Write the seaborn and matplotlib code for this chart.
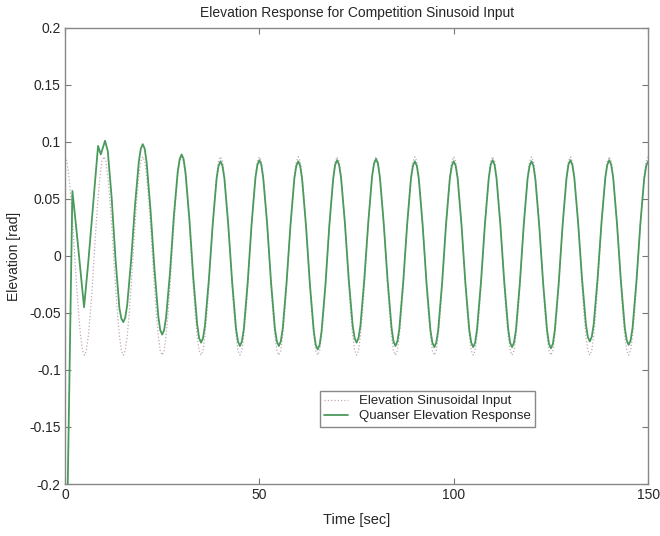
import numpy as np
import pandas as pd
import matplotlib
matplotlib.use("Agg")
import matplotlib.pyplot as plt
import seaborn as sns

# entree sinusoidale (pas de 0.5 s)
input_time = [i * 0.5 for i in range(301)]
input_elev = [
    0.087, 0.083, 0.070, 0.051, 0.027, 0.0, -0.027, -0.051, -0.070, -0.083,
    -0.087, -0.083, -0.070, -0.051, -0.027, 0.0, 0.027, 0.051, 0.070, 0.083,
    0.087, 0.083, 0.070, 0.051, 0.027, 0.0, -0.027, -0.051, -0.070, -0.083,
    -0.087, -0.083, -0.070, -0.051, -0.027, 0.0, 0.027, 0.051, 0.070, 0.083,
    0.087, 0.083, 0.070, 0.051, 0.027, 0.0, -0.027, -0.051, -0.070, -0.083,
    -0.087, -0.083, -0.070, -0.051, -0.027, 0.0, 0.027, 0.051, 0.070, 0.083,
    0.087, 0.083, 0.070, 0.051, 0.027, 0.0, -0.027, -0.051, -0.070, -0.083,
    -0.087, -0.083, -0.070, -0.051, -0.027, 0.0, 0.027, 0.051, 0.070, 0.083,
    0.087, 0.083, 0.070, 0.051, 0.027, 0.0, -0.027, -0.051, -0.070, -0.083,
    -0.087, -0.083, -0.070, -0.051, -0.027, 0.0, 0.027, 0.051, 0.070, 0.083,
    0.087, 0.083, 0.070, 0.051, 0.027, 0.0, -0.027, -0.051, -0.070, -0.083,
    -0.087, -0.083, -0.070, -0.051, -0.027, 0.0, 0.027, 0.051, 0.070, 0.083,
    0.087, 0.083, 0.070, 0.051, 0.027, 0.0, -0.027, -0.051, -0.070, -0.083,
    -0.087, -0.083, -0.070, -0.051, -0.027, 0.0, 0.027, 0.051, 0.070, 0.083,
    0.087, 0.083, 0.070, 0.051, 0.027, 0.0, -0.027, -0.051, -0.070, -0.083,
    -0.087, -0.083, -0.070, -0.051, -0.027, 0.0, 0.027, 0.051, 0.070, 0.083,
    0.087, 0.083, 0.070, 0.051, 0.027, 0.0, -0.027, -0.051, -0.070, -0.083,
    -0.087, -0.083, -0.070, -0.051, -0.027, 0.0, 0.027, 0.051, 0.070, 0.083,
    0.087, 0.083, 0.070, 0.051, 0.027, 0.0, -0.027, -0.051, -0.070, -0.083,
    -0.087, -0.083, -0.070, -0.051, -0.027, 0.0, 0.027, 0.051, 0.070, 0.083,
    0.087, 0.083, 0.070, 0.051, 0.027, 0.0, -0.027, -0.051, -0.070, -0.083,
    -0.087, -0.083, -0.070, -0.051, -0.027, 0.0, 0.027, 0.051, 0.070, 0.083,
    0.087, 0.083, 0.070, 0.051, 0.027, 0.0, -0.027, -0.051, -0.070, -0.083,
    -0.087, -0.083, -0.070, -0.051, -0.027, 0.0, 0.027, 0.051, 0.070, 0.083,
    0.087, 0.083, 0.070, 0.051, 0.027, 0.0, -0.027, -0.051, -0.070, -0.083,
    -0.087, -0.083, -0.070, -0.051, -0.027, 0.0, 0.027, 0.051, 0.070, 0.083,
    0.087, 0.083, 0.070, 0.051, 0.027, 0.0, -0.027, -0.051, -0.070, -0.083,
    -0.087, -0.083, -0.070, -0.051, -0.027, 0.0, 0.027, 0.051, 0.070, 0.083,
    0.087, 0.083, 0.070, 0.051, 0.027, 0.0, -0.027, -0.051, -0.070, -0.083,
    -0.087, -0.083, -0.070, -0.051, -0.027, 0.0, 0.027, 0.051, 0.070, 0.083,
    0.087,
]

# reponse Quanser (une ligne = une periode, du creux au creux suivant)
response_time = [
    0.5, 1.9, 3, 4, 4.9, 6, 7, 8, 8.5, 9.2, 10.3, 11, 12, 13, 14, 14.5,
    15, 15.5, 16, 17, 18, 19, 19.5, 20, 20.5, 21, 22, 23, 24, 24.5,
    25, 25.5, 26, 27, 28, 29, 29.5, 30, 30.5, 31, 32, 33, 34, 34.5,
    35, 35.5, 36, 37, 38, 39, 39.5, 40, 40.5, 41, 42, 43, 44, 44.5,
    45, 45.5, 46, 47, 48, 49, 49.5, 50, 50.5, 51, 52, 53, 54, 54.5,
    55, 55.5, 56, 57, 58, 59, 59.5, 60, 60.5, 61, 62, 63, 64, 64.5,
    65, 65.5, 66, 67, 68, 69, 69.5, 70, 70.5, 71, 72, 73, 74, 74.5,
    75, 75.5, 76, 77, 78, 79, 79.5, 80, 80.5, 81, 82, 83, 84, 84.5,
    85, 85.5, 86, 87, 88, 89, 89.5, 90, 90.5, 91, 92, 93, 94, 94.5,
    95, 95.5, 96, 97, 98, 99, 99.5, 100, 100.5, 101, 102, 103, 104, 104.5,
    105, 105.5, 106, 107, 108, 109, 109.5, 110, 110.5, 111, 112, 113, 114, 114.5,
    115, 115.5, 116, 117, 118, 119, 119.5, 120, 120.5, 121, 122, 123, 124, 124.5,
    125, 125.5, 126, 127, 128, 129, 129.5, 130, 130.5, 131, 132, 133, 134, 134.5,
    135, 135.5, 136, 137, 138, 139, 139.5, 140, 140.5, 141, 142, 143, 144, 144.5,
    145, 145.5, 146, 147, 148, 149, 149.5, 150,
]
response_elev = [
    -0.245, 0.057, 0.021, -0.014, -0.045, -0.005, 0.036, 0.078, 0.0965, 0.089, 0.101, 0.092, 0.051, -0.003, -0.046, -0.055,
    -0.058, -0.054, -0.043, -0.004, 0.044, 0.083, 0.094, 0.098, 0.094, 0.082, 0.040, -0.011, -0.053, -0.065,
    -0.069, -0.065, -0.054, -0.015, 0.035, 0.074, 0.085, 0.089, 0.085, 0.073, 0.032, -0.019, -0.060, -0.072,
    -0.076, -0.072, -0.061, -0.021, 0.028, 0.068, 0.079, 0.083, 0.079, 0.068, 0.027, -0.023, -0.064, -0.075,
    -0.079, -0.075, -0.064, -0.023, 0.028, 0.069, 0.080, 0.084, 0.080, 0.068, 0.028, -0.023, -0.064, -0.075,
    -0.079, -0.075, -0.064, -0.023, 0.027, 0.068, 0.079, 0.083, 0.079, 0.067, 0.026, -0.025, -0.066, -0.078,
    -0.082, -0.078, -0.066, -0.025, 0.027, 0.068, 0.080, 0.084, 0.080, 0.069, 0.029, -0.021, -0.061, -0.072,
    -0.076, -0.072, -0.061, -0.020, 0.029, 0.070, 0.081, 0.085, 0.081, 0.069, 0.028, -0.022, -0.063, -0.075,
    -0.079, -0.075, -0.064, -0.023, 0.027, 0.068, 0.079, 0.083, 0.079, 0.068, 0.027, -0.024, -0.065, -0.076,
    -0.080, -0.076, -0.065, -0.024, 0.027, 0.068, 0.079, 0.083, 0.079, 0.068, 0.027, -0.024, -0.065, -0.076,
    -0.080, -0.076, -0.064, -0.023, 0.027, 0.068, 0.080, 0.084, 0.080, 0.068, 0.027, -0.023, -0.064, -0.076,
    -0.080, -0.076, -0.065, -0.024, 0.027, 0.068, 0.079, 0.083, 0.079, 0.067, 0.026, -0.024, -0.065, -0.077,
    -0.081, -0.077, -0.065, -0.024, 0.027, 0.068, 0.080, 0.084, 0.080, 0.069, 0.029, -0.020, -0.060, -0.071,
    -0.075, -0.071, -0.060, -0.020, 0.029, 0.069, 0.080, 0.084, 0.080, 0.069, 0.028, -0.022, -0.063, -0.074,
    -0.078, -0.074, -0.063, -0.022, 0.028, 0.068, 0.079, 0.083,
]

x_ticks = [0, 50, 100, 150]
y_ticks = [-0.2, -0.15, -0.1, -0.05, 0, 0.05, 0.1, 0.15, 0.2]
y_tick_labels = ["-0.2", "-0.15", "-0.1", "-0.05", "0", "0.05", "0.1", "0.15", "0.2"]

df_in = pd.DataFrame({"time": input_time, "elev": input_elev})
df_out = pd.DataFrame({"time": response_time, "elev": response_elev})

sns.set_theme(style="white")
plt.rcParams["font.family"] = ["Liberation Sans", "DejaVu Sans"]

fig = plt.figure(figsize=(6.6, 5.36), dpi=100)
ax = fig.add_axes([0.0985, 0.097, 0.8835, 0.851])

sns.lineplot(data=df_in, x="time", y="elev", ax=ax, color="#c4a6bc", linewidth=0.9,
             linestyle=":", sort=False, estimator=None, label="Elevation Sinusoidal Input")
sns.lineplot(data=df_out, x="time", y="elev", ax=ax, color="#4a9a5c", linewidth=1.3,
             sort=False, estimator=None, label="Quanser Elevation Response")

ax.set_xlim(0, 150)
ax.set_ylim(-0.2, 0.2)
ax.set_xticks(x_ticks)
ax.set_xticklabels([str(t) for t in x_ticks])
ax.set_yticks(y_ticks)
ax.set_yticklabels(y_tick_labels)
ax.tick_params(direction="in", length=4, width=0.8, color="#777777", labelsize=10,
               top=True, right=True, bottom=True, left=True, pad=3)
for sp in ax.spines.values():
    sp.set_visible(True)
    sp.set_color("#888888")
    sp.set_linewidth(1.0)

ax.set_title("Elevation Response for Competition Sinusoid Input", fontsize=10, pad=8)
ax.set_xlabel("Time [sec]", fontsize=10.5, labelpad=8)
ax.set_ylabel("Elevation [rad]", fontsize=10, labelpad=6)

leg = ax.legend(loc="lower left", bbox_to_anchor=(0.437, 0.125), fontsize=9.5,
                frameon=True, fancybox=False, framealpha=1, borderpad=0.35,
                handlelength=1.8, labelspacing=0.2, handletextpad=0.8, borderaxespad=0)
leg.get_frame().set_edgecolor("#888888")
leg.get_frame().set_linewidth(1.0)

fig.savefig("out.png", dpi=100)
